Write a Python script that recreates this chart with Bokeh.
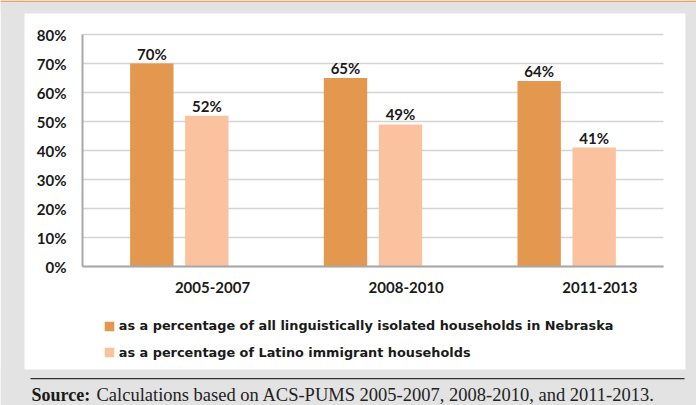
from bokeh.plotting import figure
from bokeh.models import (Range1d, FixedTicker, PrintfTickFormatter, Legend, LegendItem,
                          BoxAnnotation, Label, ColumnDataSource, LinearAxis)
from bokeh.transform import dodge
from bokeh.core.properties import value
from bokeh.embed import file_html
from bokeh.resources import INLINE

# ---------------- data ----------------
periods = ["2005-2007", "2008-2010", "2011-2013"]
share_all_isolated = [70, 65, 64]
share_latino = [52, 49, 41]
series_names = ["as a percentage of all linguistically isolated households in Nebraska",
                "as a percentage of Latino immigrant households"]
y_ticks = [0, 10, 20, 30, 40, 50, 60, 70, 80]
source_bold = "Source:"
source_text = "Calculations based on ACS-PUMS 2005-2007, 2008-2010, and 2011-2013."

# ---------------- geometry / style ----------------
W, H = 696, 405
X0PX, X3PX = 82, 663.0        # plot area left/right (pixels)
Y0PX, PX_PER_Y = 266, 2.9     # baseline of bars, pixels per percentage point
PX_PER_X = (X3PX - X0PX) / 3

ORANGE = "#E4984F"
PEACH = "#FBC2A0"
GRAY_BG = "#E3E3E3"
TEXT = "#1A1A1A"
SANS = "Lato"
LEG_FONT = "DejaVu Sans"


def px2x(px):
    return (px - X0PX) / PX_PER_X


def px2y(py):
    return (Y0PX - py) / PX_PER_Y


centers = [i + 0.5 for i in range(len(periods))]
src = ColumnDataSource(dict(
    x=centers,
    a=share_all_isolated,
    b=share_latino,
    la=[f"{v}%" for v in share_all_isolated],
    lb=[f"{v}%" for v in share_latino],
))

p = figure(width=W, height=H, min_border=0,
           x_range=Range1d(px2x(0), px2x(W)), y_range=Range1d(px2y(H), px2y(0)),
           x_axis_type=None, y_axis_type=None,
           output_backend="svg", toolbar_location=None,
           border_fill_color="white", background_fill_color="white")
p.outline_line_color = None

# horizontal grid lines at the y ticks, across the plot area
p.segment(x0=0, x1=3, y0=y_ticks, y1=y_ticks, line_color="#D4D4D4", line_width=1.5)

OFF = 0.142
BW = 0.224
r1 = p.vbar(x=dodge("x", -OFF, range=p.x_range), top="a", width=BW, bottom=0,
            source=src, fill_color=ORANGE, line_color=None)
r2 = p.vbar(x=dodge("x", OFF, range=p.x_range), top="b", width=BW, bottom=0,
            source=src, fill_color=PEACH, line_color=None)

LIFT = 10 / PX_PER_Y
for col, lab, off in (("a", "la", -OFF), ("b", "lb", OFF)):
    p.text(x=dodge("x", off, range=p.x_range), y=dodge(col, LIFT, range=p.y_range), text=lab,
           source=src, text_align="center", text_baseline="middle",
           text_font=value(SANS), text_font_style="bold", text_font_size="15px",
           text_color=TEXT)

# axes
LAB_SHIFT = 0.1714
xt = [round(c + LAB_SHIFT, 4) for c in centers]
xax = LinearAxis(fixed_location=0, bounds=(0, 3), ticker=FixedTicker(ticks=xt),
                 major_label_overrides={t: lab for t, lab in zip(xt, periods)})
yax = LinearAxis(fixed_location=0, bounds=(0, 80), ticker=FixedTicker(ticks=y_ticks),
                 formatter=PrintfTickFormatter(format="%d%%"))
for ax, st in ((xax, 15), (yax, 16)):
    ax.axis_line_color = "#A8A8A8"
    ax.axis_line_width = 2
    ax.major_tick_line_color = None
    ax.minor_tick_line_color = None
    ax.major_tick_in = 0
    ax.major_tick_out = 0
    ax.major_label_standoff = st
    ax.major_label_text_font = SANS
    ax.major_label_text_font_style = "bold"
    ax.major_label_text_font_size = "15px"
    ax.major_label_text_color = TEXT
p.add_layout(yax, "left")
p.add_layout(xax, "below")


# gray surround, orange top rule and separator line (pixel boxes -> data units)
def box(x0, y0, x1, y1, color):
    p.add_layout(BoxAnnotation(left=px2x(x0), right=px2x(x1), top=px2y(y0), bottom=px2y(y1),
                               fill_color=color, fill_alpha=1, line_color=None, line_alpha=0))


box(0, 0, 24, H, GRAY_BG)
box(685, 0, W, H, GRAY_BG)
box(0, 0, W, 13, GRAY_BG)
box(0, 369, W, H, GRAY_BG)
box(0, 0, W, 1.5, "#F2A060")
box(30, 377.5, 684, 378.7, "#333333")

# legends (one per row)
for r, name, vy in ((r1, series_names[0], 72), (r2, series_names[1], 45.5)):
    leg = Legend(items=[LegendItem(label=name, renderers=[r])], location=(102.8, vy),
                 border_line_color=None, background_fill_alpha=0, padding=0, margin=0,
                 spacing=0, glyph_width=12, glyph_height=12, label_standoff=4,
                 label_height=12, label_text_font=LEG_FONT, label_text_font_style="bold",
                 label_text_font_size="12.85px", label_text_color=TEXT)
    p.add_layout(leg)

p.add_layout(Label(x=px2x(31), y=px2y(394), text=source_bold, text_font="Liberation Serif",
                   text_font_style="bold", text_font_size="18px", text_color=TEXT,
                   text_baseline="middle"))
p.add_layout(Label(x=px2x(96), y=px2y(394), text=source_text, text_font="Liberation Serif",
                   text_font_size="18.5px", text_color="#222222", text_baseline="middle"))

open("out.html", "w").write(file_html(p, INLINE))
